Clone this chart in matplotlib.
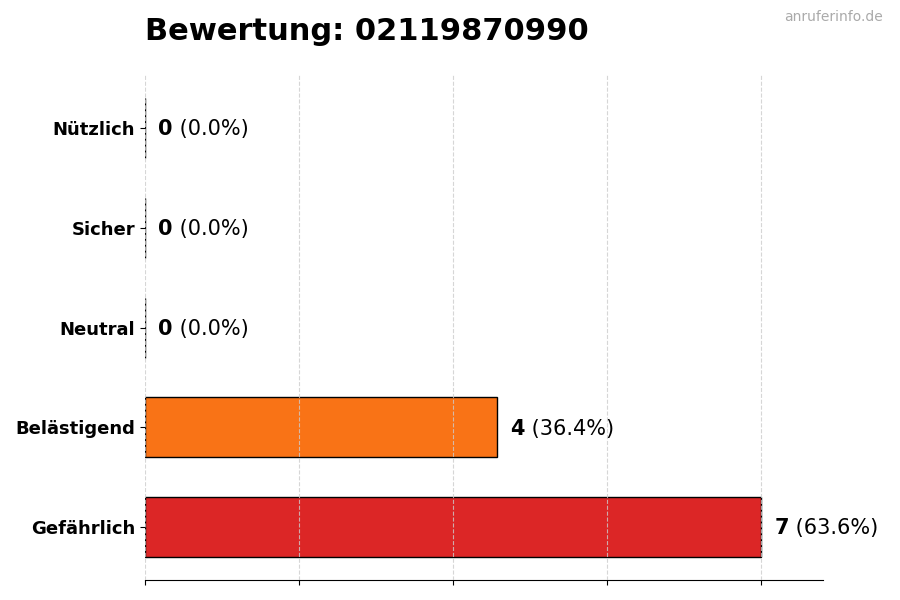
import matplotlib
matplotlib.use("Agg")
import matplotlib.pyplot as plt

categories = ["Gefährlich", "Belästigend", "Neutral", "Sicher", "Nützlich"]
counts = [7, 4, 0, 0, 0]
colors = ["#dc2626", "#f97316", "#9ca3af", "#22c55e", "#3b82f6"]
title = "Bewertung: 02119870990"
watermark = "anruferinfo.de"

total = sum(counts)

fig = plt.figure(figsize=(9, 6), dpi=100)
ax = fig.add_axes([0.161, 0.033, 0.753, 0.842])

ax.barh(categories, counts, height=0.6, color=colors, edgecolor="black", linewidth=1)
ax.set_xlim(0, max(counts) * 1.1)
ax.set_xticks([max(counts) * f for f in (0, 0.25, 0.5, 0.75, 1.0)])
ax.set_xticklabels([])
ax.grid(axis="x", linestyle="--", color="#cccccc", linewidth=0.8, alpha=0.8)
ax.set_axisbelow(False)
for s in ("top", "right", "left"):
    ax.spines[s].set_visible(False)
for lbl in ax.get_yticklabels():
    lbl.set_fontweight("bold")
    lbl.set_fontsize(13)

for i, c in enumerate(counts):
    pct = c / total * 100 if total else 0
    t1 = ax.annotate(f"{c}", xy=(c, i), xytext=(9.5, -0.8), textcoords="offset points",
                     va="center", ha="left", fontsize=15, fontweight="bold")
    ax.annotate(f" ({pct:.1f}%)", xy=(1, 0.5), xycoords=t1, va="center", ha="left",
                fontsize=15)

fig.text(0.161, 0.948, title, fontsize=22, fontweight="bold", ha="left", va="center")
fig.text(0.981, 0.971, watermark, fontsize=10, color="#aaaaaa", ha="right", va="center")

fig.savefig("out.png", dpi=100)
